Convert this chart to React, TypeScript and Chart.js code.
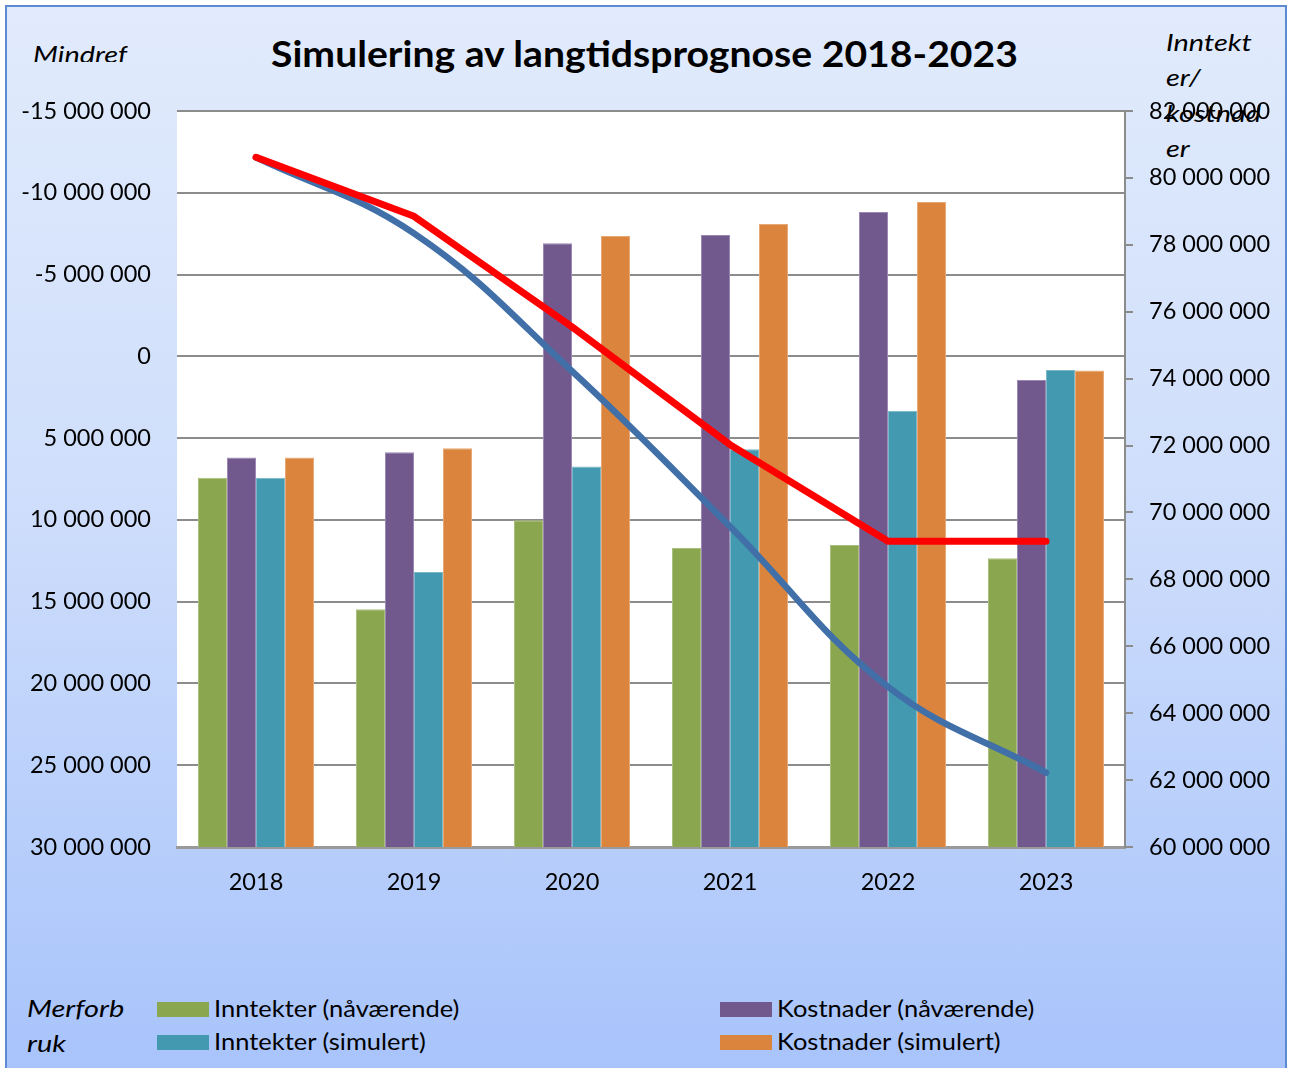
import React, { useEffect, useRef } from 'react';
import { Chart, registerables } from 'chart.js';

Chart.register(...registerables);

const years = ['2018', '2019', '2020', '2021', '2022', '2023'];

// Bars (right axis, Inntekter/kostnader)
const inntekterNaavaerende = [71.04e6, 67.11e6, 69.77e6, 68.94e6, 69.03e6, 68.63e6];
const kostnaderNaavaerende = [71.64e6, 71.8e6, 78.05e6, 78.29e6, 78.98e6, 73.96e6];
const inntekterSimulert = [71.04e6, 68.22e6, 71.37e6, 71.89e6, 73.04e6, 74.26e6];
const kostnaderSimulert = [71.64e6, 71.92e6, 78.26e6, 78.62e6, 79.28e6, 74.24e6];

// Lines (left axis, Mindreforbruk / Merforbruk, reversed)
const resultatNaavaerende = [-12.17e6, -8.56e6, -1.8e6, 5.4e6, 11.3e6, 11.3e6];
const resultatSimulert = [-12.17e6, -7.52e6, 0.9e6, 10.4e6, 20.2e6, 25.45e6];

const leftTicks = [-15e6, -10e6, -5e6, 0, 5e6, 10e6, 15e6, 20e6, 25e6, 30e6];
const rightTicks = [60e6, 62e6, 64e6, 66e6, 68e6, 70e6, 72e6, 74e6, 76e6, 78e6, 80e6, 82e6];

const FONT = 'Lato, "Noto Sans", sans-serif';
const GRID = '#8c8c8c';

const fmt = (v: number) => String(Math.round(v)).replace(/\B(?=(\d{3})+(?!\d))/g, ' ');

function Txt(props: { x: number; baseline: number; size: number; text: string; italic?: boolean; bold?: boolean; clipBottom?: number; center?: boolean; sx?: number }) {
  const { x, baseline, size, text, italic, bold, clipBottom, center, sx } = props;
  const top = baseline - 0.887 * size;
  const style: React.CSSProperties = {
    position: 'absolute',
    left: center ? 0 : x,
    width: center ? 1289 : undefined,
    textAlign: center ? 'center' : 'left',
    top,
    fontFamily: FONT,
    fontSize: size,
    lineHeight: 1,
    fontStyle: italic ? 'italic' : 'normal',
    fontWeight: bold ? 700 : 400,
    color: '#000',
    whiteSpace: 'nowrap',
    overflow: clipBottom !== undefined ? 'hidden' : 'visible',
    height: clipBottom !== undefined ? clipBottom - top : undefined,
    paddingLeft: center ? x : 0,
    boxSizing: 'border-box',
    transform: sx ? `scaleX(${sx})` : undefined,
    transformOrigin: center ? 'center top' : 'left top',
  };
  return <div style={style}>{text}</div>;
}

function LegendItem(props: { x: number; boxTop: number; baseline: number; color: string; label: string }) {
  const { x, boxTop, baseline, color, label } = props;
  return (
    <>
      <div style={{ position: 'absolute', left: x, top: boxTop, width: 52, height: 15, background: color }} />
      <Txt x={x + 57} baseline={baseline} size={23.5} text={label} sx={1.084} />
    </>
  );
}

export default function App() {
  const ref = useRef<HTMLCanvasElement | null>(null);

  useEffect(() => {
    if (!ref.current) return;
    const whiteArea = {
      id: 'whiteArea',
      beforeDraw(chart: any) {
        const { ctx, chartArea } = chart;
        ctx.save();
        ctx.fillStyle = '#ffffff';
        ctx.fillRect(chartArea.left, chartArea.top, chartArea.right - chartArea.left, chartArea.bottom - chartArea.top);
        ctx.restore();
      },
    };
    const tickFont = { family: FONT, size: 23.5 };
    const chart = new Chart(ref.current, {
      type: 'bar',
      data: {
        labels: years,
        datasets: [
          { type: 'line', label: 'Resultat (nåværende)', data: resultatNaavaerende, yAxisID: 'yL', borderColor: '#ff0000', borderWidth: 7, pointRadius: 0, tension: 0, borderCapStyle: 'round', borderJoinStyle: 'round', order: 0 } as any,
          { type: 'line', label: 'Resultat (simulert)', data: resultatSimulert, yAxisID: 'yL', borderColor: '#4170a8', borderWidth: 6.5, pointRadius: 0, tension: 0.4, borderCapStyle: 'round', borderJoinStyle: 'round', order: 1 } as any,
          { label: 'Inntekter (nåværende)', data: inntekterNaavaerende, yAxisID: 'yR', backgroundColor: '#8aa64f', borderColor: '#a9bf7d', borderWidth: 1, order: 2 },
          { label: 'Kostnader (nåværende)', data: kostnaderNaavaerende, yAxisID: 'yR', backgroundColor: '#71598e', borderColor: '#9b88b3', borderWidth: 1, order: 2 },
          { label: 'Inntekter (simulert)', data: inntekterSimulert, yAxisID: 'yR', backgroundColor: '#4299b0', borderColor: '#7ab8c9', borderWidth: 1, order: 2 },
          { label: 'Kostnader (simulert)', data: kostnaderSimulert, yAxisID: 'yR', backgroundColor: '#db843d', borderColor: '#e8a874', borderWidth: 1, order: 2 },
        ],
      },
      options: {
        responsive: false,
        maintainAspectRatio: false,
        animation: false,
        devicePixelRatio: 1,
        layout: { padding: { top: 111, left: 0, right: 0, bottom: 0 } },
        datasets: { bar: { categoryPercentage: 0.734, barPercentage: 1 } },
        plugins: { legend: { display: false }, title: { display: false }, tooltip: { enabled: false } },
        scales: {
          x: {
            offset: true,
            grid: { display: false, drawTicks: false },
            border: { display: true, color: '#9a9a9a', width: 3 },
            ticks: { font: tickFont, color: '#000', padding: 21 },
            afterFit: (s: any) => { s.height = 1068 - 847; },
          },
          yL: {
            position: 'left',
            reverse: true,
            min: leftTicks[0],
            max: leftTicks[leftTicks.length - 1],
            afterBuildTicks: (s: any) => { s.ticks = leftTicks.map((v) => ({ value: v })); },
            grid: { color: GRID, lineWidth: 2, drawTicks: false },
            border: { display: false },
            ticks: { font: tickFont, color: '#000', padding: 26, callback: (v: any) => fmt(Number(v)) },
            afterFit: (s: any) => { s.width = 177; },
          },
          yR: {
            position: 'right',
            min: rightTicks[0],
            max: rightTicks[rightTicks.length - 1],
            afterBuildTicks: (s: any) => { s.ticks = rightTicks.map((v) => ({ value: v })); },
            grid: { drawOnChartArea: false, color: GRID, lineWidth: 2, drawTicks: true, tickLength: 8 },
            border: { display: true, color: GRID, width: 2 },
            ticks: { font: tickFont, color: '#000', padding: 16, callback: (v: any) => fmt(Number(v)) },
            afterFit: (s: any) => { s.width = 1289 - 1125; },
          },
        },
      } as any,
      plugins: [whiteArea],
    });
    return () => chart.destroy();
  }, []);

  const IT = 1.23;
  return (
    <div style={{ position: 'absolute', left: 0, top: 0, width: 1289, height: 1068, overflow: 'hidden', background: '#fff' }}>
      <div
        style={{
          position: 'absolute',
          left: 5,
          top: 5,
          width: 1278,
          height: 1080,
          border: '2px solid #5b8bd2',
          background: 'linear-gradient(to bottom, #e1ebfc 0%, #cfdefb 45%, #a7c3fb 100%)',
        }}
      />
      <Txt x={0} center baseline={66.7} size={37} bold sx={1.058} text="Simulering av langtidsprognose 2018-2023" />
      <Txt x={32.5} baseline={63.5} size={23.5} italic sx={IT} text="Mindref" clipBottom={62} />
      <Txt x={1166} baseline={51.7} size={23.5} italic sx={IT} text="Inntekt" />
      <Txt x={1166} baseline={87} size={23.5} italic sx={IT} text="er/" />
      <Txt x={1166} baseline={123} size={23.5} italic sx={IT} text="kostnad" />
      <Txt x={1166} baseline={157.5} size={23.5} italic sx={IT} text="er" />
      <Txt x={26.7} baseline={1018.3} size={23.5} italic sx={IT} text="Merforb" />
      <Txt x={26.7} baseline={1053.3} size={23.5} italic sx={IT} text="ruk" />
      <LegendItem x={157} boxTop={1002} baseline={1018.3} color="#8aa64f" label="Inntekter (nåværende)" />
      <LegendItem x={157} boxTop={1035} baseline={1050.5} color="#4299b0" label="Inntekter (simulert)" />
      <LegendItem x={720} boxTop={1002} baseline={1018.3} color="#71598e" label="Kostnader (nåværende)" />
      <LegendItem x={720} boxTop={1035} baseline={1050.5} color="#db843d" label="Kostnader (simulert)" />
      <canvas ref={ref} width={1289} height={1068} style={{ position: 'absolute', left: 0, top: 0, width: 1289, height: 1068 }} />
    </div>
  );
}
